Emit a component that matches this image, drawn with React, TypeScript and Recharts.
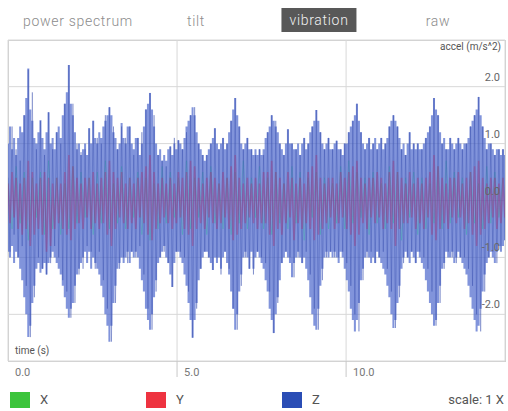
import React from "react";
import {
  ComposedChart,
  Area,
  Line,
  XAxis,
  YAxis,
  CartesianGrid,
} from "recharts";

// sample spacing (s) of the traces
const SAMPLE_STEP = 0.06;
const X_STEP = 0.12;

// Z axis: upper and lower swing per sample window (m/s^2)
const zHigh = [
  1.0, 1.3, 0.9, 1.1, 0.8, 1.1, 1.3, 1.2, 1.5, 1.8,
  2.32, 1.6, 1.4, 1.1, 1.0, 1.2, 1.41, 1.1, 0.9, 1.2,
  1.55, 1.0, 1.1, 0.9, 1.2, 1.3, 1.1, 1.5, 1.7, 1.9,
  2.38, 1.7, 1.5, 1.2, 0.9, 1.0, 0.8, 0.9, 1.0, 0.8,
  1.27, 1.0, 1.4, 1.1, 1.0, 1.2, 1.1, 1.3, 1.4, 1.5,
  1.64, 1.5, 1.2, 1.1, 0.9, 1.0, 1.36, 1.1, 1.0, 1.3,
  1.3, 1.0, 0.9, 1.1, 1.1, 0.8, 1.0, 1.3, 1.6, 1.7,
  1.89, 1.6, 1.3, 1.0, 0.8, 0.9, 0.7, 0.8, 0.7, 0.9,
  0.95, 0.8, 1.0, 0.9, 1.06, 1.0, 0.9, 1.1, 1.3, 1.4,
  1.5, 1.64, 1.5, 1.2, 1.0, 0.9, 0.8, 0.7, 0.8, 0.9,
  1.0, 1.1, 1.27, 1.0, 0.9, 1.0, 1.1, 0.9, 1.0, 1.2,
  1.4, 1.6, 1.8, 1.5, 1.3, 1.0, 0.9, 1.0, 1.1, 0.9,
  0.9, 0.8, 0.9, 0.8, 0.9, 0.8, 0.9, 1.1, 1.2, 1.3,
  1.5, 1.4, 1.3, 1.2, 1.0, 0.9, 0.8, 1.0, 1.25, 1.0,
  1.0, 0.9, 0.9, 1.0, 0.8, 1.0, 1.1, 0.9, 1.0, 1.2,
  1.3, 1.4, 1.59, 1.4, 1.2, 1.0, 0.9, 1.0, 1.1, 0.9,
  0.9, 1.0, 1.05, 0.9, 0.9, 0.8, 1.0, 1.0, 1.2, 1.3,
  1.4, 1.5, 1.7, 1.4, 1.2, 1.0, 0.9, 1.0, 1.1, 0.9,
  1.0, 1.1, 0.9, 1.0, 1.1, 0.9, 1.0, 1.1, 1.3, 1.4,
  1.5, 1.4, 1.3, 1.1, 0.9, 1.0, 0.8, 1.0, 1.2, 0.9,
  1.0, 0.9, 1.0, 0.9, 0.9, 1.0, 1.1, 1.2, 1.3, 1.5,
  1.8, 1.6, 1.5, 1.2, 1.0, 1.1, 0.9, 0.9, 1.1, 1.0,
  0.9, 1.0, 1.1, 1.0, 0.9, 1.0, 1.0, 1.1, 1.3, 1.4,
  1.5, 1.6, 1.82, 1.5, 1.3, 1.1, 0.9, 1.0, 1.0, 0.9,
  0.8, 0.9, 0.9, 0.8, 0.9, 0.8,
];

const zLow = [
  -0.9, -1.0, -0.8, -1.1, -0.9, -1.0, -1.2, -1.4, -1.7, -2.0,
  -2.4, -2.2, -1.8, -1.5, -1.2, -1.1, -1.27, -1.2, -1.1, -1.3,
  -1.1, -1.0, -0.9, -1.0, -1.1, -1.2, -1.3, -1.5, -1.7, -1.9,
  -2.06, -1.9, -1.8, -1.5, -1.3, -1.2, -1.1, -1.0, -0.9, -1.1,
  -0.9, -1.2, -1.0, -1.1, -1.2, -1.3, -1.5, -1.7, -2.0, -2.2,
  -2.48, -2.2, -1.8, -1.5, -1.2, -1.1, -1.0, -1.1, -1.0, -0.9,
  -1.1, -0.9, -1.0, -0.9, -1.0, -1.2, -1.4, -1.6, -1.9, -2.1,
  -2.27, -2.0, -1.7, -1.4, -1.1, -1.0, -0.9, -0.8, -1.0, -1.1,
  -1.3, -1.52, -1.1, -0.9, -0.9, -1.0, -1.1, -1.3, -1.5, -1.8,
  -2.1, -2.41, -2.1, -1.8, -1.4, -1.2, -1.0, -0.9, -0.9, -1.0,
  -1.1, -1.22, -1.0, -1.1, -1.0, -1.2, -1.0, -0.9, -1.1, -1.3,
  -1.6, -1.9, -2.27, -2.0, -1.6, -1.3, -1.0, -0.9, -1.0, -1.2,
  -0.9, -1.2, -1.0, -0.9, -1.0, -1.1, -1.2, -1.4, -1.6, -1.9,
  -2.1, -2.33, -2.0, -1.7, -1.4, -1.1, -1.0, -0.9, -1.0, -1.1,
  -1.35, -1.1, -1.0, -0.9, -1.0, -1.1, -1.0, -1.2, -1.4, -1.7,
  -2.0, -2.2, -2.27, -1.9, -1.5, -1.2, -1.0, -0.9, -1.0, -0.9,
  -1.0, -0.9, -1.0, -1.1, -0.9, -1.0, -1.2, -1.4, -1.6, -1.9,
  -2.1, -2.3, -2.1, -1.8, -1.4, -1.2, -1.0, -0.9, -1.0, -1.1,
  -1.0, -1.1, -0.9, -1.0, -1.1, -1.2, -1.3, -1.5, -1.7, -2.0,
  -2.24, -2.1, -1.8, -1.5, -1.2, -1.0, -0.9, -1.0, -1.1, -0.9,
  -1.0, -1.1, -0.9, -1.0, -1.1, -1.2, -1.4, -1.6, -1.8, -2.0,
  -2.2, -2.1, -1.8, -1.5, -1.2, -1.1, -0.9, -1.0, -1.0, -0.9,
  -1.1, -1.0, -0.9, -1.0, -1.1, -1.2, -1.3, -1.5, -1.7, -1.9,
  -2.1, -2.3, -2.2, -1.9, -1.6, -1.3, -1.1, -1.0, -0.9, -1.0,
  -1.1, -0.9, -0.8, -0.9, -0.8, -0.7,
];

// Z axis raw samples (m/s^2)
const zAccel = [
  0.4, -0.9, 1.3, -0.6, 0.9, -1.0, 0.7, -0.8, 1.5, -1.5,
  2.3, -2.4, 1.9, -1.7, 0.9, -1.0, 1.4, -1.2, 0.8, -1.3,
  1.55, -1.1, 0.9, -0.8, 1.2, -1.0, 1.0, -1.4, 1.7, -1.6,
  2.38, -2.06, 1.7, -1.8, 1.0, -1.3, 0.85, -1.2, 0.9, -0.8,
  1.27, -0.9, 1.4, -1.2, 1.1, -0.9, 1.0, -1.4, 1.5, -1.9,
  1.64, -2.48, 1.3, -1.8, 0.9, -1.2, 1.3, -1.0, 1.1, -1.1,
  1.3, -0.9, 0.8, -1.0, 1.1, -0.8, 1.2, -1.3, 1.6, -1.9,
  1.89, -2.27, 1.5, -1.6, 0.8, -1.0, 0.7, -0.9, 0.6, -1.1,
  0.95, -1.52, 1.1, -0.9, 1.06, -0.9, 0.9, -1.0, 1.2, -1.6,
  1.5, -2.41, 1.64, -1.9, 1.0, -1.2, 0.8, -0.9, 0.8, -1.0,
  1.0, -1.22, 1.27, -1.0, 0.9, -1.3, 1.1, -0.9, 1.0, -1.2,
  1.4, -1.9, 1.8, -2.27, 1.3, -1.5, 0.9, -1.0, 1.1, -1.2,
  0.9, -1.3, 0.8, -0.9, 0.9, -1.0, 0.8, -1.1, 1.2, -1.6,
  1.5, -2.33, 1.4, -1.8, 1.0, -1.1, 0.8, -0.9, 1.25, -1.0,
  1.0, -1.35, 0.9, -1.0, 0.8, -1.1, 1.1, -0.9, 1.0, -1.3,
  1.3, -1.9, 1.59, -2.27, 1.2, -1.4, 0.9, -1.0, 1.1, -0.9,
  0.9, -1.0, 1.05, -1.0, 0.9, -0.9, 1.0, -1.1, 1.2, -1.5,
  1.4, -2.0, 1.7, -2.3, 1.2, -1.4, 0.9, -1.0, 1.1, -0.9,
  1.0, -1.1, 0.9, -1.0, 1.1, -0.9, 1.0, -1.2, 1.3, -1.6,
  1.5, -2.24, 1.3, -1.7, 0.9, -1.1, 0.8, -1.0, 1.2, -0.9,
  1.0, -1.1, 1.0, -0.9, 0.9, -1.0, 1.1, -1.2, 1.3, -1.6,
  1.8, -2.2, 1.5, -1.8, 1.0, -1.2, 0.9, -0.9, 1.1, -1.0,
  0.9, -1.1, 1.1, -1.0, 0.9, -1.0, 1.0, -1.2, 1.3, -1.5,
  1.5, -2.0, 1.82, -2.3, 1.3, -1.6, 0.9, -1.0, 1.0, -0.9,
  0.8, -1.1, 0.9, -0.8, 0.9, -0.7,
];

// Y axis acceleration (m/s^2)
const yAccel = [
  0.3, -0.4, 0.5, -0.3, 0.4, -0.5, 0.3, -0.6, 0.4, -0.5,
  0.7, -0.8, 0.5, -0.6, 0.3, -0.5, 0.4, -0.6, 0.5, -0.9,
  0.4, -0.8, 0.3, -0.5, 0.4, -0.4, 0.3, -0.5, 0.5, -0.6,
  0.8, -0.7, 0.6, -0.5, 0.4, -0.4, 0.3, -0.5, 0.4, -0.3,
  0.4, -0.5, 0.5, -0.4, 0.3, -0.5, 0.4, -0.4, 0.5, -0.6,
  0.7, -0.8, 0.5, -0.5, 0.4, -0.3, 0.5, -0.4, 0.3, -0.5,
  0.4, -0.4, 0.3, -0.5, 0.4, -0.3, 0.5, -0.4, 0.6, -0.6,
  0.8, -0.7, 0.5, -0.5, 0.3, -0.4, 0.4, -0.3, 0.3, -0.4,
  0.4, -0.5, 0.3, -0.4, 0.5, -0.3, 0.4, -0.5, 0.5, -0.6,
  0.7, -0.8, 0.6, -0.5, 0.4, -0.4, 0.3, -0.5, 0.4, -0.3,
  0.5, -0.4, 0.4, -0.5, 0.3, -0.4, 0.5, -0.3, 0.4, -0.5,
  0.6, -0.7, 0.8, -0.6, 0.4, -0.5, 0.3, -0.4, 0.4, -0.3,
  0.3, -0.4, 0.4, -0.5, 0.3, -0.4, 0.5, -0.4, 0.5, -0.6,
  0.7, -0.8, 0.5, -0.5, 0.4, -0.6, 0.3, -0.4, 0.5, -0.3,
  0.4, -0.7, 0.3, -0.4, 0.4, -0.5, 0.3, -0.4, 0.5, -0.5,
  0.6, -0.7, 0.8, -0.6, 0.4, -0.5, 0.3, -0.4, 0.4, -0.3,
  0.4, -0.5, 0.3, -0.4, 0.5, -0.3, 0.4, -0.5, 0.5, -0.6,
  0.6, -0.8, 0.7, -0.6, 0.4, -0.4, 0.3, -0.5, 0.4, -0.3,
  0.4, -0.4, 0.5, -0.3, 0.4, -0.5, 0.3, -0.4, 0.5, -0.5,
  0.7, -0.8, 0.5, -0.5, 0.4, -0.4, 0.3, -0.4, 0.5, -0.3,
  0.3, -0.5, 0.4, -0.4, 0.3, -0.5, 0.4, -0.3, 0.5, -0.6,
  0.8, -0.7, 0.6, -0.5, 0.4, -0.4, 0.3, -0.5, 0.4, -0.3,
  0.4, -0.4, 0.5, -0.3, 0.3, -0.5, 0.4, -0.4, 0.5, -0.6,
  0.6, -0.8, 0.7, -0.6, 0.4, -0.5, 0.3, -0.4, 0.4, -0.3,
  0.4, -0.5, 0.3, -0.4, 0.4, -0.3,
];

// X axis acceleration (m/s^2), coarser
const xAccel = [
  0.3, -0.5, 0.6, -0.4, 0.5, -0.7, 0.4, -0.3, 0.5, -0.6,
  0.7, -0.5, 0.4, -0.6, 0.3, -0.5, 0.6, -0.4, 0.5, -0.3,
  0.4, -0.6, 0.5, -0.4, 0.7, -0.5, 0.3, -0.4, 0.6, -0.5,
  0.4, -0.3, 0.5, -0.6, 0.4, -0.7, 0.3, -0.5, 0.6, -0.4,
  0.5, -0.3, 0.4, -0.6, 0.7, -0.5, 0.4, -0.3, 0.5, -0.6,
  0.6, -0.4, 0.3, -0.5, 0.4, -0.6, 0.5, -0.4, 0.7, -0.5,
  0.4, -0.3, 0.6, -0.5, 0.4, -0.6, 0.5, -0.4, 0.3, -0.5,
  0.6, -0.4, 0.5, -0.7, 0.4, -0.3, 0.5, -0.6, 0.4, -0.5,
  0.3, -0.4, 0.6, -0.5, 0.7, -0.4, 0.5, -0.3, 0.4, -0.6,
  0.5, -0.4, 0.3, -0.5, 0.6, -0.4, 0.5, -0.7, 0.4, -0.3,
  0.5, -0.6, 0.4, -0.5, 0.3, -0.4, 0.6, -0.5, 0.7, -0.4,
  0.5, -0.3, 0.4, -0.6, 0.5, -0.4, 0.3, -0.5, 0.6, -0.4,
  0.5, -0.3, 0.4,
];

const timeTicks = [0, 5, 10];
const accelTicks = [-2, -1, 0, 1, 2];
const tabs = ["power spectrum", "tilt", "vibration", "raw"];
const activeTab = "vibration";
const legendNames = ["X", "Y", "Z"];
const legendColors = ["#3cc43c", "#ee3340", "#2a4db5"];

const toSeries = (vals: number[], step: number) =>
  vals.map((v, i) => ({ t: Math.round(i * step * 100) / 100, v }));

const xData = toSeries(xAccel, X_STEP);
const yData = toSeries(yAccel, SAMPLE_STEP);
const zData = toSeries(zAccel, SAMPLE_STEP);
const zBand = zHigh.map((h, i) => ({
  t: Math.round(i * SAMPLE_STEP * 100) / 100,
  range: [zLow[i], h],
}));

const FONT = "Roboto, 'DejaVu Sans', sans-serif";

const TimeTick = (props: any) => {
  const { x, y, payload } = props;
  return (
    <g>
      {payload.value > 0 && (
        <line x1={x} x2={x} y1={y} y2={y + 16} stroke="#c8c8c8" />
      )}
      <text x={x + 7} y={y + 15} fontSize={11} fill="#777" fontFamily={FONT}>
        {payload.value.toFixed(1)}
      </text>
    </g>
  );
};

const AccelTick = (props: any) => {
  const { x, y, payload } = props;
  return (
    <text
      x={x - 5}
      y={y - 6}
      fontSize={11}
      fill="#666"
      textAnchor="end"
      fontFamily={FONT}
    >
      {payload.value.toFixed(1)}
    </text>
  );
};

const tabCenters = [78, 196, 319, 438];
const legendX = [10, 146, 282];

export default function App() {
  return (
    <div
      style={{
        position: "absolute",
        left: 0,
        top: 0,
        width: 508,
        height: 411,
        background: "#fff",
        fontFamily: FONT,
        overflow: "hidden",
      }}
    >
      {tabs.map((name, i) => {
        const active = name === activeTab;
        return (
          <div
            key={name}
            style={{
              position: "absolute",
              left: tabCenters[i],
              top: active ? 8 : 9,
              transform: "translateX(-50%)",
              fontSize: 14,
              fontWeight: 300,
              letterSpacing: 0.7,
              lineHeight: "24px",
              padding: active ? "0 8px" : 0,
              background: active ? "#585858" : "transparent",
              color: active ? "#f2f2f2" : "#8c8c8c",
              whiteSpace: "nowrap",
            }}
          >
            {name}
          </div>
        );
      })}
      <div
        style={{
          position: "absolute",
          left: 8,
          top: 40,
          width: 496,
          height: 320,
          border: "1px solid #cfcfcf",
        }}
      />
      <div style={{ position: "absolute", left: 0, top: 0 }}>
        <ComposedChart
          width={508}
          height={411}
          margin={{ top: 40, right: 2, bottom: 20, left: 8 }}
        >
          <CartesianGrid stroke="#d8d8d8" />
          <XAxis
            type="number"
            dataKey="t"
            domain={[0, 14.7]}
            ticks={timeTicks}
            allowDataOverflow
            axisLine={false}
            tickLine={false}
            tickSize={0}
            tickMargin={0}
            height={30}
            tick={<TimeTick />}
          />
          <YAxis
            orientation="right"
            type="number"
            domain={[-2.82, 2.82]}
            ticks={accelTicks}
            allowDataOverflow
            axisLine={false}
            tickLine={false}
            tickSize={0}
            tickMargin={0}
            width={1}
            tick={<AccelTick />}
          />
          <Area
            data={zBand}
            dataKey="range"
            type="step"
            stroke="none"
            fill="#4c66cc"
            fillOpacity={0.7}
            dot={false}
            activeDot={false}
            isAnimationActive={false}
          />
          <Line
            data={xData}
            dataKey="v"
            type="linear"
            stroke="#30b0a0"
            strokeOpacity={0.35}
            strokeWidth={1}
            dot={false}
            activeDot={false}
            isAnimationActive={false}
          />
          <Line
            data={zData}
            dataKey="v"
            type="linear"
            stroke="#3a4fb0"
            strokeOpacity={0.4}
            strokeWidth={1}
            dot={false}
            activeDot={false}
            isAnimationActive={false}
          />
          <Line
            data={yData}
            dataKey="v"
            type="linear"
            stroke="#a83070"
            strokeOpacity={0.4}
            strokeWidth={1.6}
            dot={false}
            activeDot={false}
            isAnimationActive={false}
          />
        </ComposedChart>
      </div>
      <div
        style={{
          position: "absolute",
          right: 7,
          top: 41,
          fontSize: 10,
          color: "#555",
        }}
      >
        accel (m/s^2)
      </div>
      <div
        style={{
          position: "absolute",
          left: 15,
          top: 345,
          fontSize: 10,
          color: "#555",
        }}
      >
        time (s)
      </div>
      {legendNames.map((name, i) => (
        <React.Fragment key={name}>
          <div
            style={{
              position: "absolute",
              left: legendX[i],
              top: 392,
              width: 20,
              height: 16,
              background: legendColors[i],
            }}
          />
          <div
            style={{
              position: "absolute",
              left: legendX[i] + 30,
              top: 392,
              fontSize: 13,
              lineHeight: "16px",
              color: "#555",
            }}
          >
            {name}
          </div>
        </React.Fragment>
      ))}
      <div
        style={{
          position: "absolute",
          right: 4,
          top: 392,
          fontSize: 13,
          lineHeight: "16px",
          color: "#555",
        }}
      >
        scale: 1 X
      </div>
    </div>
  );
}
